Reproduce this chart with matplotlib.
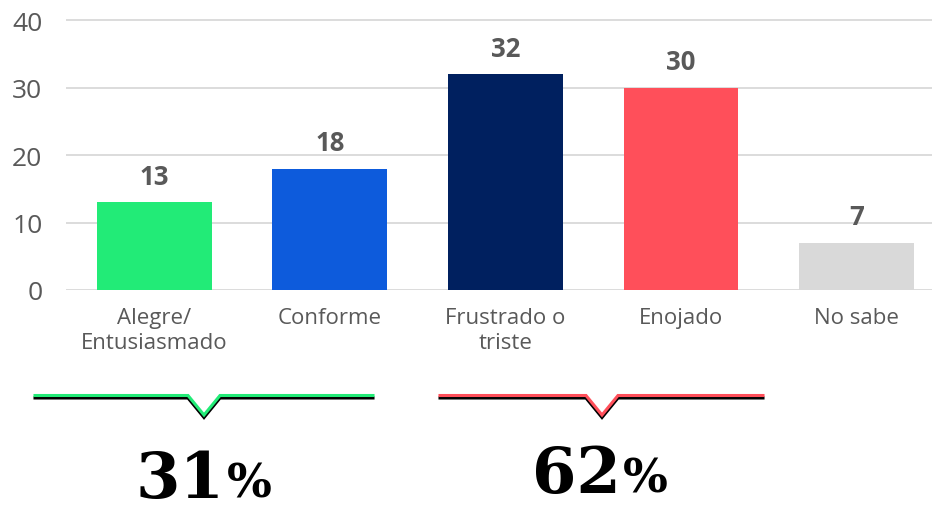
import matplotlib
matplotlib.use("Agg")
import matplotlib.pyplot as plt

# datos
categorias = ["Alegre/\nEntusiasmado", "Conforme", "Frustrado o\ntriste", "Enojado", "No sabe"]
valores = [13, 18, 32, 30, 7]
colores = ["#22EB77", "#0D5BDC", "#00205F", "#FF4F5A", "#D9D9D9"]
grupo_positivo = [0, 1]
grupo_negativo = [2, 3]
ticks_y = [0, 10, 20, 30, 40]

gris = "#595959"
plt.rcParams["font.family"] = ["Open Sans", "DejaVu Sans"]

fig = plt.figure(figsize=(9.32, 5.10), dpi=100)
ax = fig.add_axes([66 / 932, 219 / 510, 866 / 932, 276.75 / 510])

x = list(range(len(categorias)))
barras = ax.bar(x, valores, width=0.655, color=colores, zorder=3)
for b, v in zip(barras, valores):
    ax.annotate(str(v), (b.get_x() + b.get_width() / 2, v), xytext=(0, 9),
                textcoords="offset points", ha="center", va="bottom",
                fontsize=18.5, fontweight="bold", color=gris)

ax.set_xlim(-0.504, 4.43)
ax.set_ylim(0, 41)
ax.set_yticks(ticks_y)
ax.set_xticks(x)
ax.set_xticklabels(categorias, fontsize=16, color=gris, linespacing=1.3)
ax.tick_params(axis="y", labelsize=19, colors=gris, length=0, pad=17)
ax.tick_params(axis="x", length=0, pad=12)
ax.grid(axis="y", color="#D9D9D9", linewidth=1.3, zorder=0)
for s in ax.spines.values():
    s.set_visible(False)

# capa para las llaves y porcentajes
ov = fig.add_axes([0, 0, 1, 1], zorder=5)
ov.set_xlim(0, 932)
ov.set_ylim(510, 0)
ov.axis("off")
ov.patch.set_alpha(0)


def llave(x0, x1, xc, color):
    xs = [x0, xc - 16, xc, xc + 16, x1]
    ys = [396.5, 396.5, 416, 396.5, 396.5]
    ov.plot(xs, [y + 2.5 for y in ys], color="black", linewidth=2.2,
            solid_joinstyle="miter")
    ov.plot(xs, ys, color=color, linewidth=2.2, solid_joinstyle="miter")


def porcentaje(xc, base, total):
    ov.text(xc + 21, base, str(total), ha="right", va="baseline",
            fontsize=46, fontweight="bold", family="DejaVu Serif", color="black")
    ov.text(xc + 23, base, "%", ha="left", va="baseline",
            fontsize=34, fontweight="bold", family="DejaVu Serif", color="black")


llave(35, 373, 204, colores[0])
llave(440, 763, 602, colores[3])
porcentaje(204, 498, sum(valores[i] for i in grupo_positivo))
porcentaje(600, 493, sum(valores[i] for i in grupo_negativo))

fig.savefig("out.png", dpi=100)
